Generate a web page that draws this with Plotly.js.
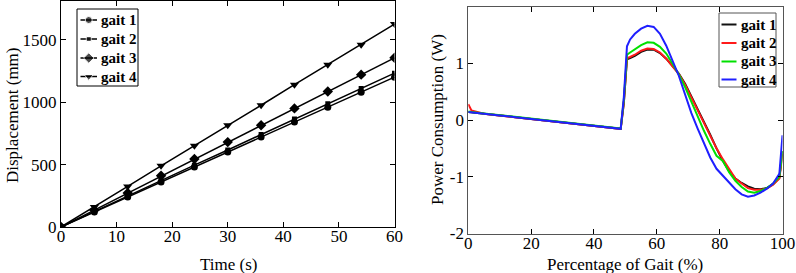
<!DOCTYPE html>
<html>
<head>
<meta charset="utf-8">
<script src="https://cdn.plot.ly/plotly-3.0.1.min.js"></script>
<style>html,body{margin:0;padding:0;background:#fff;}#chart{width:796px;height:273px;}</style>
</head>
<body>
<div id="chart"></div>
<script>
// ---------- Data ----------
const seriesNames = ["gait 1", "gait 2", "gait 3", "gait 4"];

// Left chart: displacement over time
const timeS = [0, 6, 12, 18, 24, 30, 36, 42, 48, 54, 60];
const dispGait1 = [0, 120, 240, 360, 480, 600, 720, 840, 960, 1080, 1200];
const dispGait2 = [0, 125, 250, 372, 495, 617, 740, 865, 987, 1110, 1232];
const dispGait3 = [0, 135, 272, 410, 545, 680, 815, 950, 1085, 1220, 1355];
const dispGait4 = [0, 160, 325, 490, 650, 815, 975, 1140, 1300, 1460, 1625];

// Right chart: power consumption over gait percentage
const gaitPct = [0,1,5,10,15,20,25,30,35,40,45,48.5,49.5,50.5,51.5,53,55,57,59,61,63,65,67,69,71,73,75,77,79,81,83,85,87,89,91,93,95,97,99,100];
const powGait1 = [0.14,0.135,0.11,0.08,0.05,0.02,-0.01,-0.04,-0.07,-0.10,-0.13,-0.155,0.30,1.07,1.09,1.13,1.20,1.24,1.24,1.18,1.08,0.95,0.82,0.64,0.42,0.20,-0.02,-0.26,-0.50,-0.72,-0.90,-1.03,-1.11,-1.17,-1.21,-1.22,-1.20,-1.13,-1.02,-0.55];
const powGait2 = [0.28,0.17,0.11,0.08,0.05,0.02,-0.01,-0.04,-0.07,-0.10,-0.13,-0.155,0.30,1.09,1.11,1.15,1.22,1.26,1.25,1.19,1.08,0.95,0.81,0.62,0.40,0.18,-0.04,-0.28,-0.50,-0.69,-0.87,-1.03,-1.12,-1.20,-1.23,-1.23,-1.21,-1.14,-1.03,-0.60];
const powGait3 = [0.15,0.14,0.115,0.085,0.055,0.025,-0.005,-0.035,-0.065,-0.095,-0.125,-0.15,0.35,1.15,1.19,1.24,1.32,1.37,1.36,1.29,1.17,0.99,0.80,0.58,0.32,0.05,-0.19,-0.42,-0.63,-0.72,-0.92,-1.07,-1.18,-1.26,-1.28,-1.25,-1.20,-1.12,-1.00,-0.55];
const powGait4 = [0.14,0.135,0.11,0.08,0.05,0.02,-0.01,-0.04,-0.07,-0.10,-0.13,-0.155,0.40,1.30,1.42,1.52,1.61,1.66,1.64,1.52,1.31,1.05,0.78,0.45,0.12,-0.15,-0.42,-0.66,-0.86,-0.98,-1.10,-1.22,-1.31,-1.35,-1.33,-1.28,-1.21,-1.12,-0.95,-0.27];

const leftXTicks = [0, 10, 20, 30, 40, 50, 60];
const leftYTicks = [0, 500, 1000, 1500];
const rightXTicks = [0, 20, 40, 60, 80, 100];
const rightYTicks = [-2, -1, 0, 1, 2];
const rightYTickText = ["-2", "-1", "0", "1", "2"];

const leftXTitle = "Time (s)";
const leftYTitle = "Displacement (mm)";
const rightXTitle = "Percentage of Gait (%)";
const rightYTitle = "Power Consumption (W)";

// ---------- Styles ----------
const W = 796, H = 273;
const FONT = "'Liberation Serif', 'Times New Roman', 'DejaVu Serif', serif";
const dispSeries = [dispGait1, dispGait2, dispGait3, dispGait4];
const powSeries = [powGait1, powGait2, powGait3, powGait4];
const markerSymbols = ["circle", "square", "diamond", "triangle-down"];
const markerSizes = [7, 5, 8, 8];
const powColors = ["#111111", "#ff1a1a", "#00e000", "#1f1fff"];

const px = v => v / W;
const py = v => 1 - v / H;

const traces = [];
dispSeries.forEach((ys, i) => {
  traces.push({
    x: timeS, y: ys, xaxis: "x", yaxis: "y", type: "scatter", mode: "lines+markers",
    line: {color: "#000", width: 1.5},
    marker: {symbol: markerSymbols[i], size: markerSizes[i], color: "#000"},
    showlegend: false, hoverinfo: "skip"
  });
});
powSeries.forEach((ys, i) => {
  traces.push({
    x: gaitPct, y: ys, xaxis: "x2", yaxis: "y2", type: "scatter", mode: "lines",
    line: {color: powColors[i], width: 2},
    showlegend: false, hoverinfo: "skip"
  });
});

// Custom legends (drawn on a full-canvas helper axis in pixel units)
const leftLegend = {box: [77, 9, 138, 86], rows: [20, 39, 58, 76.5], line: [80.5, 97], text: 99};
const rightLegend = {box: [719, 13, 776, 87], rows: [24.5, 43, 61.5, 79.5], line: [721.5, 736.5], text: 738.5};

const shapes = [];
const annotations = [];
[[leftLegend, "#000"], [rightLegend, "#555"]].forEach(([lg, bc]) => {
  shapes.push({type: "rect", xref: "paper", yref: "paper",
    x0: px(lg.box[0]), x1: px(lg.box[2]), y0: py(lg.box[3]), y1: py(lg.box[1]),
    line: {color: bc, width: 1}, fillcolor: "#fff", layer: "below"});
});
const legFont = {family: FONT, size: 15, color: "#000", weight: "bold"};
seriesNames.forEach((name, i) => {
  const yl = leftLegend.rows[i];
  const xm = (leftLegend.line[0] + leftLegend.line[1]) / 2;
  traces.push({
    x: [leftLegend.line[0], xm, leftLegend.line[1]], y: [yl, yl, yl],
    xaxis: "x3", yaxis: "y3", type: "scatter", mode: "lines+markers",
    line: {color: "#000", width: 1.5},
    marker: {symbol: markerSymbols[i], size: [0, markerSizes[i], 0], color: "#000"},
    showlegend: false, hoverinfo: "skip", cliponaxis: false
  });
  annotations.push({xref: "paper", yref: "paper", x: px(leftLegend.text), y: py(yl),
    xanchor: "left", yanchor: "middle", showarrow: false, text: name, font: legFont});
  const yr = rightLegend.rows[i];
  traces.push({
    x: [rightLegend.line[0], rightLegend.line[1]], y: [yr, yr],
    xaxis: "x3", yaxis: "y3", type: "scatter", mode: "lines",
    line: {color: powColors[i], width: 2},
    showlegend: false, hoverinfo: "skip", cliponaxis: false
  });
  annotations.push({xref: "paper", yref: "paper", x: px(rightLegend.text), y: py(yr),
    xanchor: "left", yanchor: "middle", showarrow: false, text: name, font: legFont});
});

// Axis titles as annotations for exact placement
const titleFont = {family: FONT, size: 17, color: "#000"};
annotations.push({xref: "paper", yref: "paper", x: px(228), y: py(264.5), xanchor: "center", yanchor: "middle",
  showarrow: false, text: leftXTitle, font: titleFont});
annotations.push({xref: "paper", yref: "paper", x: px(625), y: py(264), xanchor: "center", yanchor: "middle",
  showarrow: false, text: rightXTitle, font: titleFont});
annotations.push({xref: "paper", yref: "paper", x: px(12), y: py(115), xanchor: "center", yanchor: "middle",
  showarrow: false, text: leftYTitle, font: titleFont, textangle: -90});
annotations.push({xref: "paper", yref: "paper", x: px(437), y: py(120), xanchor: "center", yanchor: "middle",
  showarrow: false, text: rightYTitle, font: titleFont, textangle: -90});

const axBase = {
  showgrid: false, zeroline: false, showline: true, mirror: "ticks",
  ticks: "inside", ticklen: 5, tickwidth: 1, tickcolor: "#000",
  tickfont: {family: FONT, size: 17, color: "#000"},
  fixedrange: true, automargin: false
};

const layout = {
  width: W, height: H,
  margin: {l: 0, r: 0, t: 0, b: 0},
  paper_bgcolor: "#fff", plot_bgcolor: "rgba(0,0,0,0)",
  font: {family: FONT},
  showlegend: false,
  xaxis: Object.assign({}, axBase, {
    domain: [px(61), px(394.5)], range: [0, 60], anchor: "y",
    tickvals: leftXTicks, linecolor: "#000", ticklabelstandoff: -6
  }),
  yaxis: Object.assign({}, axBase, {
    domain: [py(227), py(1)], range: [0, 1810], anchor: "x",
    tickvals: leftYTicks, linecolor: "#000"
  }),
  xaxis2: Object.assign({}, axBase, {
    domain: [px(468.3), px(782.5)], range: [0, 100], anchor: "y2",
    tickvals: rightXTicks, linecolor: "#555", ticklabelstandoff: -6
  }),
  yaxis2: Object.assign({}, axBase, {
    domain: [py(233.5), py(6.5)], range: [-2, 2], anchor: "x2",
    tickvals: rightYTicks, ticktext: rightYTickText, linecolor: "#555"
  }),
  xaxis3: {domain: [0, 1], range: [0, W], visible: false, fixedrange: true, anchor: "y3"},
  yaxis3: {domain: [0, 1], range: [H, 0], visible: false, fixedrange: true, anchor: "x3"},
  shapes: shapes,
  annotations: annotations
};

Plotly.newPlot("chart", traces, layout, {displayModeBar: false, staticPlot: true});
</script>
</body>
</html>
